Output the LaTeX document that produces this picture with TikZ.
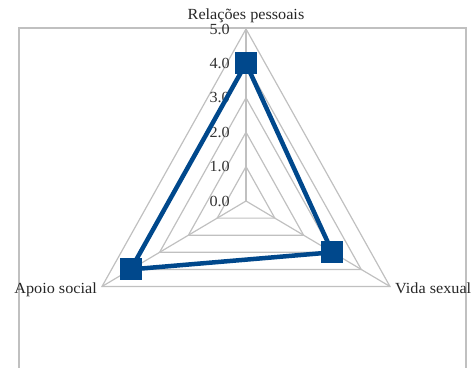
\documentclass[tikz,border=0pt]{standalone}
\usepackage{fontspec}
\setmainfont[FakeStretch=1.05]{Liberation Serif}
\definecolor{gridgray}{RGB}{192,192,192}
\definecolor{databl}{RGB}{0,72,140}
\begin{document}
\begin{tikzpicture}[x=1bp,y=-1bp,
  gridline/.style={draw=gridgray,line width=1.2bp},
  frameline/.style={draw=gridgray,line width=1.4bp},
  ticklab/.style={anchor=east,inner sep=0pt,font=\fontsize{15.5}{18}\selectfont,text=black!80},
  axlab/.style={inner sep=0pt,font=\fontsize{15.5}{18}\selectfont,text=black!85},
  datamark/.style={fill=databl,rectangle,minimum size=22bp,inner sep=0pt},
  dataline/.style={draw=databl,line width=4.5bp,line join=miter}]
\useasboundingbox (0,0) rectangle (475,367);
\clip (0,0) rectangle (475,367);
% frame
\draw[frameline] (19,28) rectangle (466,400);
% grid
\coordinate (O) at (246,201);
\coordinate (T) at (246,29);
\coordinate (R) at (390,286.5);
\coordinate (L) at (102,286.5);
\foreach \k in {1,...,5}
  \draw[gridline] (246,{201-34.4*\k}) -- ({246+28.8*\k},{201+17.1*\k}) -- ({246-28.8*\k},{201+17.1*\k}) -- cycle;
\draw[gridline] (O) -- (T);
\draw[gridline] (O) -- (R);
\draw[gridline] (O) -- (L);
% tick labels
\foreach \k in {0,...,5}
  \node[ticklab] (tk\k) at (230,{201-34.4*\k}) {\k.0};
% axis labels
\node[axlab,anchor=base] (lr) at (246,19.5) {Relações pessoais};
\node[axlab,anchor=base east] (la) at (97,293) {Apoio social};
\node[axlab,anchor=base west] (lv) at (395,293) {Vida sexual};
% data
\node[datamark] (m1) at (246,63.4) {};
\node[datamark] (m2) at (332.4,252.3) {};
\node[datamark] (m3) at (130.8,269.4) {};
\draw[dataline] (m1.center) -- (m2.center) -- (m3.center) -- cycle;
\end{tikzpicture}
\end{document}
